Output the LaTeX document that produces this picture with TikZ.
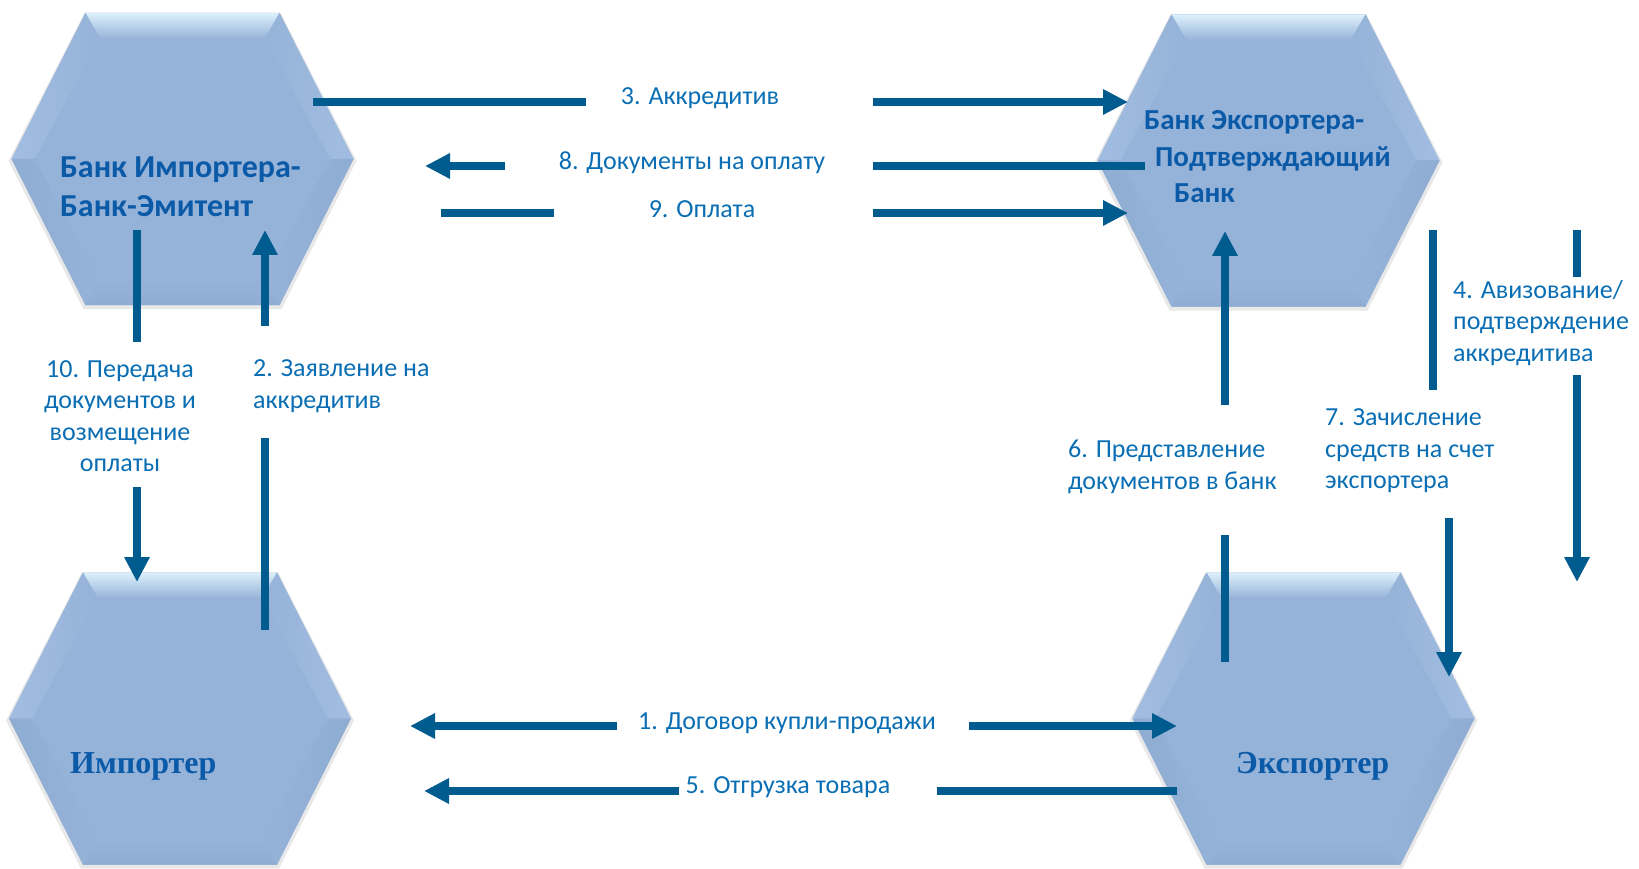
\documentclass[tikz,border=0pt]{standalone}
\usepackage{fontspec}
\setmainfont{Carlito}
\newfontfamily\serifb{Liberation Serif}
\usetikzlibrary{arrows.meta}
\definecolor{arrowc}{HTML}{005B8F}
\definecolor{labc}{HTML}{0A6EB4}
\definecolor{namec}{HTML}{0B5AA8}
\definecolor{hexc}{HTML}{95B2D8}
\definecolor{hexlight}{HTML}{DCF0FB}
\definecolor{hexup}{HTML}{A2BDE1}
\definecolor{hexdown}{HTML}{8FACD3}
\tikzset{
  hexa/.pic={
    \fill[black!9] (-174,2) -- (-98,-146) -- (98,-146) -- (174,2) -- (99,150) -- (-99,150) -- cycle;
    \fill[hexc] (-171,0) -- (-97,-146) -- (97,-146) -- (171,0) -- (97,146) -- (-97,146) -- cycle;
    \shade[top color=hexlight, bottom color=hexc] (-97,-146) -- (97,-146) -- (82,-120) -- (-82,-120) -- cycle;
    \shade[left color=hexup, right color=hexc] (-171,0) -- (-97,-146) -- (-82,-120) -- (-148,0) -- cycle;
    \shade[right color=hexup, left color=hexc] (171,0) -- (97,-146) -- (82,-120) -- (148,0) -- cycle;
    \shade[left color=hexdown, right color=hexc] (-171,0) -- (-97,146) -- (-82,122) -- (-148,0) -- cycle;
    \shade[right color=hexdown, left color=hexc] (171,0) -- (97,146) -- (82,122) -- (148,0) -- cycle;
    \shade[bottom color=hexdown, top color=hexc] (-97,146) -- (97,146) -- (82,122) -- (-82,122) -- cycle;
  },
  seg/.style={draw=arrowc, line width=8pt},
  arr/.style={draw=arrowc, line width=8pt, -{Triangle[length=25pt,width=24pt]}},
  namebox/.style={font=\fontsize{29}{36.5}\selectfont\bfseries, text=namec, inner sep=0pt, align=left},
  serifname/.style={font=\fontsize{32}{38}\selectfont\serifb\bfseries, text=namec, inner sep=0pt},
  lab/.style={font=\fontsize{26}{31.5}\selectfont, text=labc, inner sep=0pt},
}
\begin{document}
\begin{tikzpicture}[x=1pt, y=-1pt]
\useasboundingbox (0,0) rectangle (1639,869);
\fill[white] (0,0) rectangle (1639,869);

% hexagons
\pic (hA) at (182.5,159) {hexa};
\pic (hB) at (1268.5,160.5) {hexa};
\pic (hC) at (180,718.5) {hexa};
\pic (hD) at (1303.5,718.5) {hexa};

% names
\node[namebox, anchor=west, font=\fontsize{32}{39}\selectfont\bfseries] (bankimp) at (60,187) {Банк Импортера-\\Банк-Эмитент};
\node[namebox, anchor=west] (bankexp) at (1144,157) {Банк Экспортера-\\\hspace*{11pt}Подтверждающий\\\hspace*{30pt}Банк};
\node[serifname, anchor=west] (imp) at (70,766) {Импортер};
\node[serifname, anchor=west] (exp) at (1236,766) {Экспортер};

% coordinates
\coordinate (a3s) at (313,102);  \coordinate (a3m) at (586,102);
\coordinate (a3n) at (873,102);  \coordinate (a3e) at (1128,102);
\coordinate (a8s) at (1145,166); \coordinate (a8m) at (873,166);
\coordinate (a8n) at (505,166);  \coordinate (a8e) at (425,166);
\coordinate (a9s) at (441,213);  \coordinate (a9m) at (554,213);
\coordinate (a9n) at (873,213);  \coordinate (a9e) at (1128,213);
\coordinate (a1s) at (969,726);  \coordinate (a1e) at (1177,726);
\coordinate (a1n) at (617,726);  \coordinate (a1w) at (410,726);
\coordinate (a5s) at (1177,791); \coordinate (a5m) at (937,791);
\coordinate (a5n) at (679,791);  \coordinate (a5e) at (424,791);
\coordinate (a2s) at (265,630);  \coordinate (a2m) at (265,438);
\coordinate (a2n) at (265,326);  \coordinate (a2e) at (265,230);
\coordinate (a10s) at (137,230); \coordinate (a10m) at (137,342);
\coordinate (a10n) at (137,487); \coordinate (a10e) at (137,582);
\coordinate (a6s) at (1225,662); \coordinate (a6m) at (1225,535);
\coordinate (a6n) at (1225,405); \coordinate (a6e) at (1225,231);
\coordinate (a7s) at (1433,230); \coordinate (a7m) at (1433,390);
\coordinate (a7n) at (1449,518); \coordinate (a7e) at (1449,677);
\coordinate (a4s) at (1577,230); \coordinate (a4m) at (1577,277);
\coordinate (a4n) at (1577,375); \coordinate (a4e) at (1577,582);

% connectors
\draw[seg] (a3s) -- (a3m);  \draw[arr] (a3n) -- (a3e);
\draw[seg] (a8s) -- (a8m);  \draw[arr] (a8n) -- (a8e);
\draw[seg] (a9s) -- (a9m);  \draw[arr] (a9n) -- (a9e);
\draw[arr] (a1s) -- (a1e);  \draw[arr] (a1n) -- (a1w);
\draw[seg] (a5s) -- (a5m);  \draw[arr] (a5n) -- (a5e);
\draw[seg] (a2s) -- (a2m);  \draw[arr] (a2n) -- (a2e);
\draw[seg] (a10s) -- (a10m); \draw[arr] (a10n) -- (a10e);
\draw[seg] (a6s) -- (a6m);  \draw[arr] (a6n) -- (a6e);
\draw[seg] (a7s) -- (a7m);  \draw[arr] (a7n) -- (a7e);
\draw[seg] (a4s) -- (a4m);  \draw[arr] (a4n) -- (a4e);

% labels
\node[lab] (l3) at (700,98) {3. Аккредитив};
\node[lab] (l8) at (692,163) {8. Документы на оплату};
\node[lab] (l9) at (702,209) {9. Оплата};
\node[lab] (l1) at (787,723) {1. Договор купли-продажи};
\node[lab] (l5) at (788,787) {5. Отгрузка товара};
\node[lab, align=center] (l10) at (120,416) {10. Передача\\документов и\\возмещение\\оплаты};
\node[lab, align=left, anchor=west] (l2) at (253,386) {2. Заявление на\\аккредитив};
\node[lab, align=left, anchor=west] (l6) at (1068,467) {6. Представление\\документов в банк};
\node[lab, align=left, anchor=west] (l7) at (1325,451) {7. Зачисление\\средств на счет\\экспортера};
\node[lab, align=left, anchor=west] (l4) at (1453,323) {4. Авизование/\\подтверждение\\аккредитива};
\end{tikzpicture}
\end{document}
